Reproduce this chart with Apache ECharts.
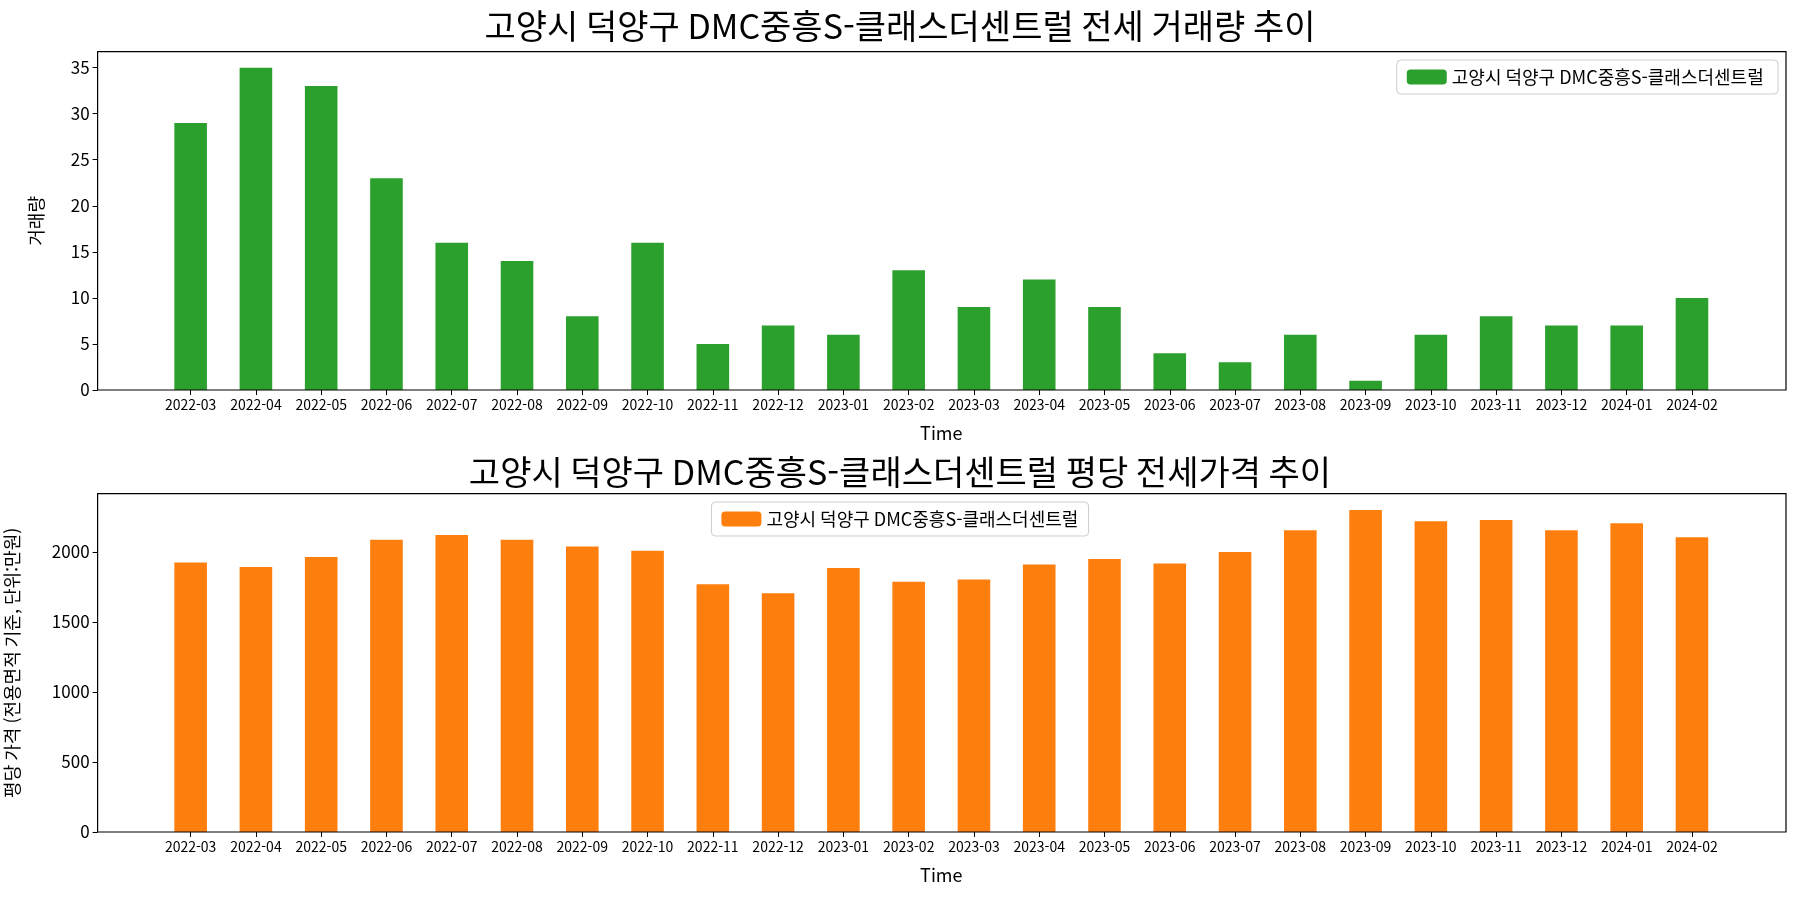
<!DOCTYPE html>
<html lang="ko">
<head>
<meta charset="UTF-8">
<title>DMC중흥S-클래스더센트럴</title>
<script src="https://cdn.jsdelivr.net/npm/echarts@6/dist/echarts.min.js"></script>
<style>
  body { margin: 0; }
  #main { width: 1800px; height: 900px; }
</style>
</head>
<body>
<div id="main"></div>
<script>
  const months = ["2022-03","2022-04","2022-05","2022-06","2022-07","2022-08","2022-09","2022-10","2022-11","2022-12",
    "2023-01","2023-02","2023-03","2023-04","2023-05","2023-06","2023-07","2023-08","2023-09","2023-10","2023-11","2023-12",
    "2024-01","2024-02"];
  const volume = [29,35,33,23,16,14,8,16,5,7,6,13,9,12,9,4,3,6,1,6,8,7,7,10];
  const price = [1925,1893,1965,2088,2122,2088,2040,2008,1770,1705,1885,1787,1803,1910,1950,1918,2000,2155,2300,2220,2228,2155,2205,2105];
  const seriesName = "고양시 덕양구 DMC중흥S-클래스더센트럴";

  const font = "'Noto Sans CJK KR', 'Noto Sans', sans-serif";
  const chart = echarts.init(document.getElementById("main"));

  // plot frames (matplotlib style box)
  const frames = [[97.6, 51.7, 1786, 390], [97.6, 493.6, 1786, 832]].map(function (f) {
    return {
      type: "rect", silent: true, z: 100,
      shape: { x: f[0], y: f[1], width: f[2] - f[0], height: f[3] - f[1] },
      style: { fill: "none", stroke: "#000", lineWidth: 1.2 }
    };
  });

  function yAxisCfg(idx, max, name, gap) {
    return {
      gridIndex: idx, type: "value", min: 0, max: max, interval: idx === 0 ? 5 : 500,
      offset: 60.4, name: name, nameLocation: "middle", nameGap: gap,
      nameTextStyle: { fontSize: 18, color: "#000", fontFamily: font },
      axisLine: { show: false }, splitLine: { show: false },
      axisTick: { show: true, length: 5, lineStyle: { color: "#000" } },
      axisLabel: { fontSize: 17, color: "#000", fontFamily: font, showMaxLabel: false,
        formatter: function (v) { return String(v); } }
    };
  }
  function xAxisCfg(idx) {
    return {
      gridIndex: idx, type: "category", data: months,
      name: "Time", nameLocation: "middle", nameGap: 34,
      nameTextStyle: { fontSize: 18, color: "#000", fontFamily: font },
      axisLine: { show: false },
      axisTick: { show: true, alignWithLabel: true, length: 5, lineStyle: { color: "#000" } },
      axisLabel: { fontSize: 14, color: "#000", fontFamily: font, interval: 0, margin: 8 }
    };
  }

  const option = {
    animation: false,
    backgroundColor: "#fff",
    graphic: frames,
    title: [
      { text: "고양시 덕양구 DMC중흥S-클래스더센트럴 전세 거래량 추이", left: "center", top: 4,
        textStyle: { fontSize: 34, fontWeight: "normal", color: "#000", fontFamily: font } },
      { text: "고양시 덕양구 DMC중흥S-클래스더센트럴 평당 전세가격 추이", left: "center", top: 450,
        textStyle: { fontSize: 34, fontWeight: "normal", color: "#000", fontFamily: font } }
    ],
    legend: [
      { data: [seriesName + " "], right: 22, top: 60, itemWidth: 40, itemHeight: 15,
        borderColor: "#ccc", borderWidth: 1, borderRadius: 4, padding: [8, 10],
        textStyle: { fontSize: 18, color: "#000", fontFamily: font } },
      { data: [seriesName], left: "center", top: 502, itemWidth: 40, itemHeight: 15,
        borderColor: "#ccc", borderWidth: 1, borderRadius: 4, padding: [8, 10],
        textStyle: { fontSize: 18, color: "#000", fontFamily: font } }
    ],
    grid: [
      { left: 158, right: 75.4, top: 51.7, height: 338.3, outerBoundsMode: "none", containLabel: false },
      { left: 158, right: 75.4, top: 493.6, height: 338.4, outerBoundsMode: "none", containLabel: false }
    ],
    xAxis: [xAxisCfg(0), xAxisCfg(1)],
    yAxis: [yAxisCfg(0, 36.73, "거래량", 52), yAxisCfg(1, 2417, "평당 가격 (전용면적 기준, 단위:만원)", 76)],
    series: [
      { name: seriesName + " ", type: "bar", xAxisIndex: 0, yAxisIndex: 0, data: volume,
        barWidth: 32.6, itemStyle: { color: "#2ca02c" } },
      { name: seriesName, type: "bar", xAxisIndex: 1, yAxisIndex: 1, data: price,
        barWidth: 32.6, itemStyle: { color: "#ff7f0e" } }
    ]
  };
  chart.setOption(option);
</script>
</body>
</html>
